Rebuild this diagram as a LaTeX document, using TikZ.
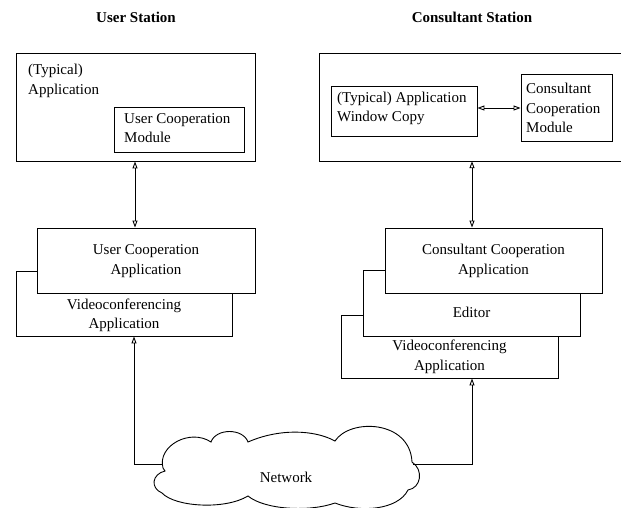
\documentclass[tikz,border=0pt]{standalone}
\usepackage{fontspec}
\setmainfont{Liberation Serif}
\usetikzlibrary{arrows.meta}
\begin{document}
\begin{tikzpicture}[x=1pt,y=-1pt,
  every node/.style={font=\fontsize{15}{19.5}\selectfont, inner sep=0pt},
  box/.style={draw, line width=0.9pt, fill=white, minimum width=#1},
  lbl/.style={align=center},
  lft/.style={align=left, anchor=west},
  title/.style={font=\fontsize{15}{19.5}\selectfont\bfseries},
  conn/.style={line width=0.9pt, {Triangle[open,length=7pt,width=5pt]}-{Triangle[open,length=7pt,width=5pt]}},
  uconn/.style={line width=0.9pt, -{Triangle[open,length=7pt,width=5pt]}},
  plain/.style={line width=0.9pt}]
\useasboundingbox (0,0) rectangle (621,508);
\begin{scope}
\clip (0,0) rectangle (621,508);

% titles
\node[title] (t1) at (136,17) {User Station};
\node[title] (t2) at (472,17) {Consultant Station};

% ---------- User station ----------
\node[box=239pt, minimum height=108pt] (uapp) at (135.5,107) {};
\node[lft] (uapptxt) at (28,81) {(Typical)\\Application};
\node[box=130pt, minimum height=45pt] (umod) at (179,129.5) {};
\node[lft] (umodtxt) at (124,128) {User Cooperation\\Module};

\node[box=216pt, minimum height=65pt] (uvid) at (124,303.5) {};
\node[box=218pt, minimum height=65pt] (ucoop) at (146,260.5) {};
\node[lbl] (ucooptxt) at (146,261) {User Cooperation\\Application};
\node[lbl] (uvidtxt) at (124,315.5) {Videoconferencing\\Application};

\draw[conn] (uapp.south -| 135,0) -- (ucoop.north -| 135,0);

% ---------- Consultant station ----------
\node[minimum width=301pt, minimum height=107pt] (capp) at (470.5,107.5) {};
\draw[plain] (capp.north east) -- (capp.north west) -- (capp.south west) -- (capp.south east);
\node[box=146pt, minimum height=50pt] (cwin) at (404,111) {};
\node[lft] (cwintxt) at (337,108.5) {(Typical) Application\\Window Copy};
\node[box=91pt, minimum height=67pt] (cmod) at (566.5,107.5) {};
\node[lft] (cmodtxt) at (526,108) {Consultant\\Cooperation\\Module};
\draw[conn] (cwin.east |- 0,108) -- (cmod.west |- 0,108);

\node[box=217pt, minimum height=63pt] (cvid) at (449.5,346.5) {};
\node[box=217pt, minimum height=66pt] (cedit) at (471.5,303) {};
\node[box=217pt, minimum height=65pt] (ccoop) at (493.5,260.5) {};
\node[lbl] (ccooptxt) at (493.5,261) {Consultant Cooperation\\Application};
\node (cedittxt) at (471.5,312) {Editor};
\node[lbl] (cvidtxt) at (449.5,357) {Videoconferencing\\Application};

\draw[conn] (capp.south -| 472,0) -- (ccoop.north -| 472,0);

% ---------- Network cloud ----------
\draw[plain, fill=white] (163,468)
  .. controls (157,446) and (190,428) .. (211,442)
  .. controls (216,428) and (243,428) .. (248,442)
  .. controls (280,428) and (315,430) .. (335,441)
  .. controls (350,418) and (410,420) .. (412,462)
  .. controls (424,470) and (421,488) .. (408,490)
  .. controls (398,510) and (360,513) .. (335,503)
  .. controls (310,512) and (265,510) .. (248,496)
  .. controls (225,510) and (175,507) .. (162,493)
  .. controls (150,488) and (152,474) .. (165,471)
  -- cycle;
\coordinate (netL) at (162,464);
\coordinate (netR) at (413,464);
\node (net) at (286,477) {Network};

\draw[uconn] (netL) -- (134,464) -- (uvid.south -| 134,0);
\draw[uconn] (netR) -- (472,464) -- (cvid.south -| 472,0);
\end{scope}
\end{tikzpicture}
\end{document}
